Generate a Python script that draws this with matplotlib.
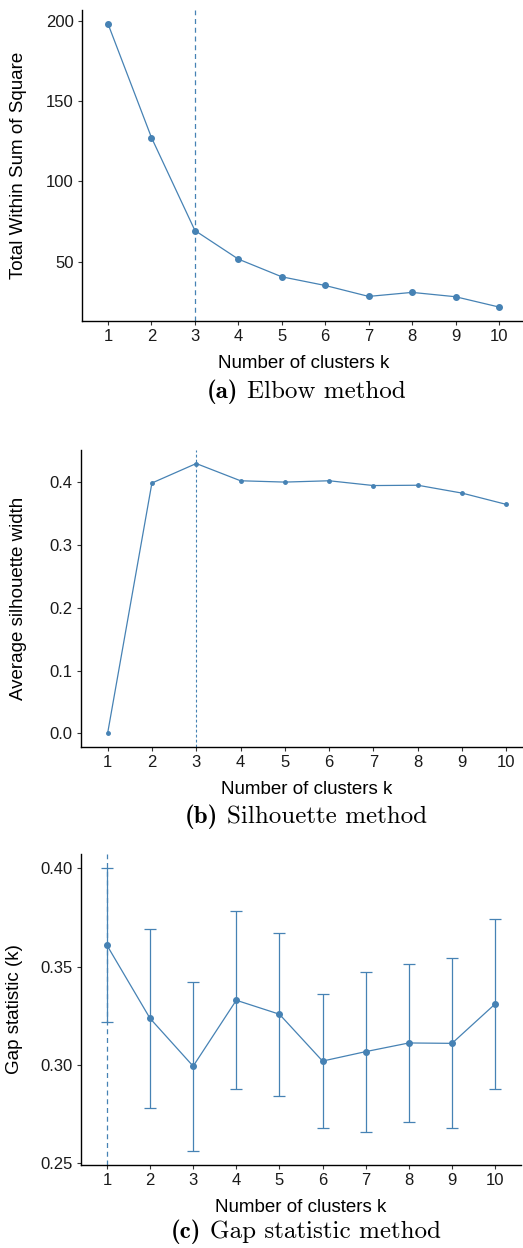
import numpy as np
import matplotlib
matplotlib.use("Agg")
import matplotlib.pyplot as plt
from matplotlib.offsetbox import TextArea, HPacker, AnchoredOffsetbox

plt.rcParams['font.family'] = ['Liberation Sans', 'DejaVu Sans']

# values
k = [1, 2, 3, 4, 5, 6, 7, 8, 9, 10]
wss = [198.0, 127.3, 69.5, 51.7, 40.7, 35.3, 28.5, 31.0, 28.3, 21.9]
sil = [0.0, 0.398, 0.429, 0.4016, 0.3995, 0.4016, 0.394, 0.3945, 0.382, 0.364]
gap = [0.3609, 0.3237, 0.2994, 0.3329, 0.3258, 0.3020, 0.3068, 0.3112, 0.3110, 0.3310]
gap_se = [0.0391, 0.0455, 0.0430, 0.0451, 0.0415, 0.0341, 0.0406, 0.0401, 0.0432, 0.0430]
best_k = [3, 3, 1]

cap_tags = ["(a)", "(b)", "(c)"]
cap_names = ["Elbow method", "Silhouette method", "Gap statistic method"]
ylabels = ["Total Within Sum of Square", "Average silhouette width", "Gap statistic (k)"]

W, H = 523, 1248
fig = plt.figure(figsize=(W / 100, H / 100), dpi=100)
COL = "#4682B4"


def px_axes(left, top, right, bottom):
    return fig.add_axes([left / W, 1 - bottom / H, (right - left) / W, (bottom - top) / H])


def style(ax, ylab, lab_x):
    for s in ["top", "right"]:
        ax.spines[s].set_visible(False)
    for s in ["left", "bottom"]:
        ax.spines[s].set_linewidth(1.0)
        ax.spines[s].set_color("black")
    ax.set_xlim(0.4, 10.6)
    ax.set_xticks(k)
    ax.tick_params(length=3, width=0.8, color="#333333", labelsize=12, pad=3,
                   labelcolor="#1a1a1a")
    ax.set_xlabel("Number of clusters k", fontsize=13.5, labelpad=8)
    ax.set_ylabel(ylab, fontsize=13.5)
    ax.yaxis.set_label_coords(lab_x, 0.5)


# (a) elbow
ax1 = px_axes(82, 10, 525, 321)
ax1.plot(k, wss, color=COL, lw=0.9, marker="o", ms=4)
ax1.axvline(best_k[0], color=COL, lw=0.9, ls=(0, (4, 3)))
ax1.set_ylim(13.2, 206.7)
ax1.set_yticks([50, 100, 150, 200])
style(ax1, ylabels[0], (27 - 82) / 443)

# (b) silhouette
ax2 = px_axes(81, 450, 533, 747)
ax2.plot(k, sil, color=COL, lw=0.9, marker="o", ms=2.5)
ax2.axvline(best_k[1], color=COL, lw=0.8, ls=(0, (2.5, 2)))
ax2.set_ylim(-0.0215, 0.4505)
ax2.set_yticks([0.0, 0.1, 0.2, 0.3, 0.4])
style(ax2, ylabels[1], (27 - 81) / 452)

# (c) gap statistic
ax3 = px_axes(81, 854, 521, 1165)
ax3.errorbar(k, gap, yerr=gap_se, color=COL, lw=0.9, marker="o", ms=4,
             capsize=4.3, capthick=0.9, elinewidth=0.9)
ax3.axvline(best_k[2], color=COL, lw=0.9, ls=(0, (4, 3)))
ax3.set_ylim(0.2492, 0.4072)
ax3.set_yticks([0.25, 0.30, 0.35, 0.40])
ax3.set_yticklabels(["0.25", "0.30", "0.35", "0.40"])
style(ax3, ylabels[2], (23 - 81) / 440)

# subfigure captions, bold tag + roman name
for tag, name, y in zip(cap_tags, cap_names, [392, 817, 1232]):
    t1 = TextArea(tag, textprops=dict(family="cmb10", fontsize=18))
    t2 = TextArea(name, textprops=dict(family="cmr10", fontsize=18))
    box = HPacker(children=[t1, t2], align="baseline", pad=0, sep=6)
    anc = AnchoredOffsetbox(loc="center", child=box, frameon=False, pad=0,
                            bbox_to_anchor=(306 / W, 1 - y / H),
                            bbox_transform=fig.transFigure, borderpad=0)
    fig.add_artist(anc)

fig.savefig("out.png", dpi=100)
